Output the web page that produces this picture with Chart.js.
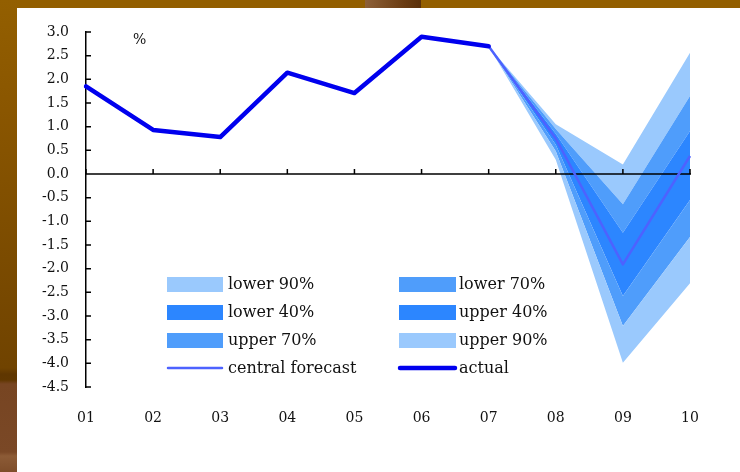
<!DOCTYPE html>
<html lang="en">
<head>
  <meta charset="UTF-8" />
  <title>GDP growth fan chart</title>
  <script src="https://cdn.jsdelivr.net/npm/chart.js"></script>
  <style>
    body { margin: 0; width: 740px; height: 472px; background: #935f00; position: relative; overflow: hidden; }
    .franja-izq { position: absolute; left: 0; top: 0; width: 17px; height: 472px;
      background: linear-gradient(to bottom, #935f00 0px, #8a5600 110px, #704300 368px, #5f3600 374px, #603700 380px, #774522 384px, #7a4826 452px, #8c5b36 456px, #7e4d2a 472px); }
    .bloque-sup { position: absolute; left: 365px; top: 0; width: 56px; height: 8px;
      background: linear-gradient(to right, #8d6038, #6a3c12 70%, #5a300a); }
    .panel { position: absolute; left: 17px; top: 8px; right: 0; bottom: 0; background: #fff; }
    #grafico { position: absolute; left: 0; top: 0; }
  </style>
</head>
<body>
<div class="franja-izq"></div>
<div class="bloque-sup"></div>
<div class="panel"></div>
<canvas id="grafico" width="740" height="472"></canvas>

<script>
// categories (years) and series
const years = ['01', '02', '03', '04', '05', '06', '07', '08', '09', '10'];
const actual    = [1.85, 0.93, 0.78, 2.14, 1.71, 2.9, 2.7, null, null, null];
const central   = [null, null, null, null, null, null, 2.7, 0.75, -1.91, 0.38];
// fan boundaries
const fan90Low  = [null, null, null, null, null, null, 2.7, 0.30, -3.99, -2.31];
const fan70Low  = [null, null, null, null, null, null, 2.7, 0.48, -3.21, -1.33];
const fan40Low  = [null, null, null, null, null, null, 2.7, 0.62, -2.58, -0.55];
const fan40High = [null, null, null, null, null, null, 2.7, 0.85, -1.24, 0.91];
const fan70High = [null, null, null, null, null, null, 2.7, 0.95, -0.64, 1.65];
const fan90High = [null, null, null, null, null, null, 2.7, 1.05, 0.20, 2.56];

const yMin = -4.5, yMax = 3.0, yStep = 0.5;

const C90 = '#9ac9fd', C70 = '#4f9dfb', C40 = '#2c86ff';
const CCentral = '#4d62ff', CActual = '#0000ee';
const FONT = 'DejaVu Serif';

const banda = (label, data, color) => ({
  label, data, backgroundColor: color, borderWidth: 0, pointRadius: 0, fill: '-1'
});

const datasets = [
  { label: 'actual', data: actual, borderColor: CActual, borderWidth: 4.5, pointRadius: 0,
    fill: false, borderJoinStyle: 'round', borderCapStyle: 'round' },
  { label: 'central forecast', data: central, borderColor: CCentral, borderWidth: 2.5, pointRadius: 0,
    fill: false, borderJoinStyle: 'round' },
  { label: 'base', data: fan90Low, borderWidth: 0, pointRadius: 0, fill: false },
  banda('lower 90%', fan70Low, C90),
  banda('lower 70%', fan40Low, C70),
  banda('lower 40%', central, C40),
  banda('upper 40%', fan40High, C40),
  banda('upper 70%', fan70High, C70),
  banda('upper 90%', fan90High, C90)
];

// axis at zero with category ticks, inward ticks on the value axis
const marcasEjes = {
  id: 'marcasEjes',
  beforeDatasetDraw(chart, args) {
    if (args.index !== 1) return;
    const { ctx, scales: { x, y } } = chart;
    ctx.save();
    ctx.strokeStyle = '#000';
    ctx.lineWidth = 1.5;
    const y0 = y.getPixelForValue(0);
    ctx.beginPath();
    ctx.moveTo(x.left, y0);
    ctx.lineTo(x.right + 1, y0);
    years.forEach((_, i) => {
      const px = x.getPixelForValue(i);
      ctx.moveTo(px, y0);
      ctx.lineTo(px, y0 - 5);
    });
    for (let v = yMin; v <= yMax + 1e-9; v += yStep) {
      const py = y.getPixelForValue(v);
      ctx.moveTo(x.left, py);
      ctx.lineTo(x.left + 5, py);
    }
    ctx.stroke();
    ctx.restore();
  }
};

// two-column legend inside the plot, plus the unit label
const leyenda = {
  id: 'leyenda',
  afterDraw(chart) {
    const ctx = chart.ctx;
    const orden = ['lower 90%', 'lower 70%', 'lower 40%', 'upper 40%', 'upper 70%', 'upper 90%', 'central forecast', 'actual'];
    const cajaX = [167, 399], cajaW = [56, 57], textoX = [228, 459];
    ctx.save();
    ctx.font = `16px "${FONT}"`;
    ctx.textBaseline = 'middle';
    orden.forEach((nombre, i) => {
      const ds = chart.data.datasets.find(d => d.label === nombre);
      const col = i % 2, fila = Math.floor(i / 2);
      const cy = 284 + fila * 28;
      if (ds.fill) {
        ctx.fillStyle = ds.backgroundColor;
        ctx.fillRect(cajaX[col], cy - 7, cajaW[col], 15);
      } else {
        ctx.strokeStyle = ds.borderColor;
        ctx.lineWidth = ds.borderWidth;
        ctx.lineCap = 'round';
        ctx.beginPath();
        ctx.moveTo(cajaX[col] + 1, cy);
        ctx.lineTo(cajaX[col] + cajaW[col] - 1, cy);
        ctx.stroke();
      }
      ctx.fillStyle = '#111';
      ctx.fillText(nombre, textoX[col], cy + 1);
    });
    ctx.font = `14px "${FONT}"`;
    ctx.textBaseline = 'alphabetic';
    ctx.fillText('%', 133, 44);
    ctx.restore();
  }
};

new Chart(document.getElementById('grafico'), {
  type: 'line',
  data: { labels: years, datasets },
  options: {
    responsive: false,
    animation: false,
    devicePixelRatio: 1,
    layout: { padding: { top: 32, right: 50, left: 0, bottom: 0 } },
    plugins: { legend: { display: false }, tooltip: { enabled: false }, filler: { propagate: false } },
    scales: {
      x: {
        offset: false,
        grid: { display: false, drawTicks: false },
        border: { display: false },
        ticks: { color: '#111', font: { family: FONT, size: 14 }, padding: 23, maxRotation: 0, autoSkip: false },
        afterFit: s => { s.height = 85; }
      },
      y: {
        min: yMin,
        max: yMax,
        grid: { drawOnChartArea: false, drawTicks: false },
        border: { display: true, color: '#000', width: 1.5 },
        ticks: { stepSize: yStep, color: '#111', font: { family: FONT, size: 14 }, padding: 17,
          callback: v => v.toFixed(1) },
        afterFit: s => { s.width = 86; }
      }
    }
  },
  plugins: [marcasEjes, leyenda]
});
</script>
</body>
</html>
